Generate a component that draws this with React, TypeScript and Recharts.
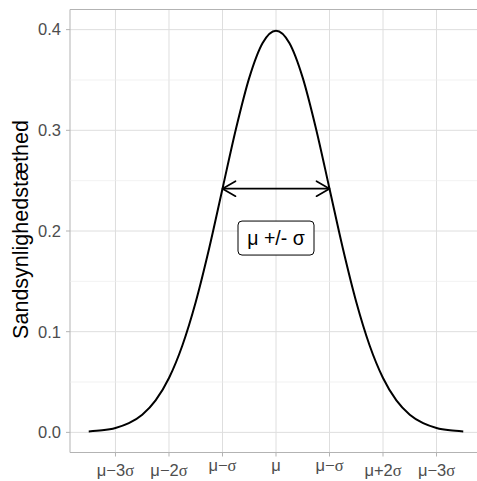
import React from "react";
import {
  ComposedChart,
  Line,
  XAxis,
  YAxis,
  CartesianGrid,
  ReferenceLine,
  ReferenceArea,
  ReferenceDot,
} from "recharts";

// ---- data ----
const curveX = [
  -3.5, -3.25, -3, -2.75, -2.5, -2.25, -2, -1.75, -1.5, -1.25, -1, -0.75, -0.5, -0.25, 0,
  0.25, 0.5, 0.75, 1, 1.25, 1.5, 1.75, 2, 2.25, 2.5, 2.75, 3, 3.25, 3.5,
];
const curveY = [
  0.0009, 0.002, 0.0044, 0.0091, 0.0175, 0.0317, 0.054, 0.0863, 0.1295, 0.1826, 0.242,
  0.3011, 0.3521, 0.3867, 0.3989, 0.3867, 0.3521, 0.3011, 0.242, 0.1826, 0.1295, 0.0863,
  0.054, 0.0317, 0.0175, 0.0091, 0.0044, 0.002, 0.0009,
];
const xTickValues = [-3, -2, -1, 0, 1, 2, 3];
const xTickLabels = ["μ−3σ", "μ−2σ", "μ−σ", "μ", "μ−σ", "μ+2σ", "μ−3σ"];
const yTickValues = [0, 0.1, 0.2, 0.3, 0.4];
const yTickLabels = ["0.0", "0.1", "0.2", "0.3", "0.4"];
const yMinorValues = [0.05, 0.15, 0.25, 0.35];
const arrowX = [-1, 1];
const arrowY = [0.242, 0.242];
const labelText = "μ +/- σ";
const labelX = 0;
const labelY = 0.193;
const yTitle = "Sandsynlighedstæthed";

const curveData = curveX.map((x, i) => ({ x, y: curveY[i] }));
const arrowData = arrowX.map((x, i) => ({ x, y: arrowY[i] }));

const FONT = "'Liberation Sans', Arial, sans-serif";
const GREEK = "'Liberation Serif', 'Times New Roman', serif";
const TICK_COLOR = "#4d4d4d";

const XTick = (props: any) => {
  const { x, y, payload } = props;
  const idx = xTickValues.indexOf(payload.value);
  const label = xTickLabels[idx] ?? "";
  const hasDigit = /\d/.test(label);
  const off = hasDigit ? 19 : label.length === 1 ? 14 : 14.5;
  const chars = Array.from(label);
  return (
    <text
      x={x}
      y={y + off}
      textAnchor="middle"
      fontSize={16.5}
      fill={TICK_COLOR}
      fontFamily={FONT}
    >
      {chars.map((c, i) => (
        <tspan key={i} fontFamily={c === "σ" ? GREEK : FONT}>
          {c}
        </tspan>
      ))}
    </text>
  );
};

const YTitle = () => (
  <text
    x={21}
    y={229.5}
    transform="rotate(-90 21 229.5)"
    textAnchor="middle"
    dominantBaseline="central"
    fontSize={21.5}
    fill="#000"
    fontFamily={FONT}
  >
    {yTitle}
  </text>
);

const ArrowHead = (props: any) => {
  const { cx, cy, index } = props;
  if (cx == null || cy == null) return <g key={`ah-${index}`} />;
  const dir = index === 0 ? 1 : -1;
  return (
    <polyline
      key={`ah-${index}`}
      points={`${cx + dir * 13},${cy - 7.5} ${cx},${cy} ${cx + dir * 13},${cy + 7.5}`}
      fill="none"
      stroke="#000"
      strokeWidth={1.7}
      strokeLinecap="round"
      strokeLinejoin="round"
    />
  );
};

const LabelBox = (props: any) => {
  const { cx, cy } = props;
  if (cx == null || cy == null) return <g />;
  return (
    <g>
      <rect
        x={cx - 38}
        y={cy - 17}
        width={76}
        height={34}
        rx={4}
        ry={4}
        fill="#fff"
        stroke="#000"
        strokeWidth={1}
      />
      <text
        x={cx}
        y={cy}
        textAnchor="middle"
        dominantBaseline="central"
        fontSize={19.5}
        fill="#000"
        fontFamily={FONT}
      >
        {labelText}
      </text>
    </g>
  );
};

export default function App() {
  return (
    <div
      style={{
        position: "absolute",
        left: 0,
        top: 0,
        width: 477,
        height: 481,
        overflow: "hidden",
        background: "#fff",
      }}
    >
      <ComposedChart
        width={490}
        height={481}
        data={curveData}
        margin={{ top: 9.5, right: 8, bottom: 0, left: 0 }}
      >
        <CartesianGrid
          stroke="#dedede"
          strokeWidth={1}
          horizontalValues={yTickValues}
          verticalValues={xTickValues}
        />
        {yMinorValues.map((v) => (
          <ReferenceLine key={v} y={v} stroke="#ececec" strokeWidth={0.7} />
        ))}
        <ReferenceArea
          x1={-3.85}
          x2={3.85}
          y1={-0.02}
          y2={0.42}
          fill="none"
          stroke="#b3b3b3"
          strokeWidth={1}
          ifOverflow="visible"
        />
        <XAxis
          dataKey="x"
          type="number"
          domain={[-3.85, 3.85]}
          allowDataOverflow
          ticks={xTickValues}
          tick={<XTick />}
          tickSize={4}
          tickMargin={0}
          tickLine={{ stroke: "#b3b3b3" }}
          axisLine={false}
          height={28.5}
          interval={0}
        />
        <YAxis
          type="number"
          domain={[-0.02, 0.42]}
          allowDataOverflow
          ticks={yTickValues}
          tickFormatter={(v: number) => yTickLabels[yTickValues.indexOf(v)] ?? String(v)}
          tick={{ fontSize: 16.5, fill: TICK_COLOR, fontFamily: FONT }}
          tickSize={4}
          tickMargin={5}
          tickLine={{ stroke: "#b3b3b3" }}
          axisLine={false}
          width={70}
          interval={0}
          label={<YTitle />}
        />
        <Line
          data={curveData}
          dataKey="y"
          type="monotone"
          stroke="#000"
          strokeWidth={2}
          dot={false}
          isAnimationActive={false}
        />
        <Line
          data={arrowData}
          dataKey="y"
          type="linear"
          stroke="#000"
          strokeWidth={1.7}
          dot={(p: any) => <ArrowHead {...p} />}
          activeDot={false}
          isAnimationActive={false}
        />
        <ReferenceDot
          x={labelX}
          y={labelY}
          r={0}
          shape={(p: any) => <LabelBox {...p} />}
        />
      </ComposedChart>
    </div>
  );
}
